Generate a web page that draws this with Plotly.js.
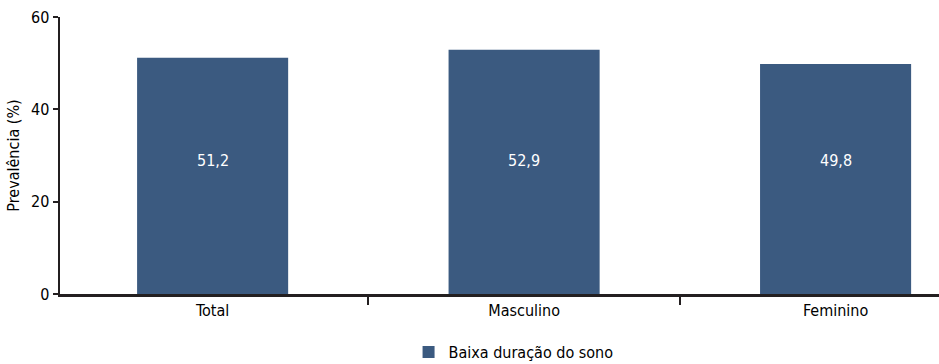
<!DOCTYPE html>
<html>
<head>
<meta charset="utf-8">
<script src="https://cdn.plot.ly/plotly-3.0.1.min.js"></script>
<style>html,body{margin:0;padding:0;background:#fff;}#chart{width:939px;height:364px;}</style>
</head>
<body>
<div id="chart"></div>
<script>
const categories = ["Total", "Masculino", "Feminino"];
const values = [51.2, 52.9, 49.8];
const seriesName = "Baixa duração do sono";
const yTicks = [0, 20, 40, 60];
const labelLevel = 29;

const FONT = "'Liberation Sans Narrow', 'DejaVu Sans Condensed', 'Roboto Condensed', sans-serif";
const AX = "#231f20";

const trace = {
  type: "bar",
  x: categories,
  y: values,
  name: seriesName,
  marker: {color: "#3b5a80"},
  width: 0.485,
  hoverinfo: "none",
  showlegend: true
};

const annotations = categories.map((c, i) => ({
  x: c, y: labelLevel, xref: "x", yref: "y",
  text: values[i].toFixed(1).replace(".", ","),
  showarrow: false,
  font: {family: FONT, size: 16, color: "#ffffff"}
}));

const layout = {
  width: 939, height: 364,
  margin: {l: 60, r: 0, t: 17, b: 70, autoexpand: false},
  paper_bgcolor: "#fff", plot_bgcolor: "#fff",
  separators: ",.",
  font: {family: FONT, size: 16, color: "#000"},
  showlegend: true,
  legend: {orientation: "h", x: 0.516, xanchor: "center", y: -0.21, yanchor: "middle",
           font: {family: FONT, size: 16, color: "#000"}},
  annotations: annotations,
  xaxis: {
    type: "category",
    range: [-0.49, 2.332],
    tickson: "boundaries",
    ticks: "outside", ticklen: 8, tickwidth: 2, tickcolor: AX,
    showline: true, linecolor: AX, linewidth: 2.5,
    showgrid: false, zeroline: false,
    tickfont: {family: FONT, size: 16, color: "#000"}
  },
  yaxis: {
    range: [0, 60],
    tickvals: yTicks,
    ticktext: yTicks.map(String),
    ticks: "outside", ticklen: 5, tickwidth: 2, tickcolor: AX,
    showline: true, linecolor: AX, linewidth: 2.5,
    showgrid: false, zeroline: false,
    tickfont: {family: FONT, size: 16, color: "#000"},
    title: {text: "Prevalência (%)", font: {family: FONT, size: 16, color: "#000"}, standoff: 8}
  },
  bargap: 0.5
};

Plotly.newPlot("chart", [trace], layout, {staticPlot: true, displayModeBar: false});
</script>
</body>
</html>
